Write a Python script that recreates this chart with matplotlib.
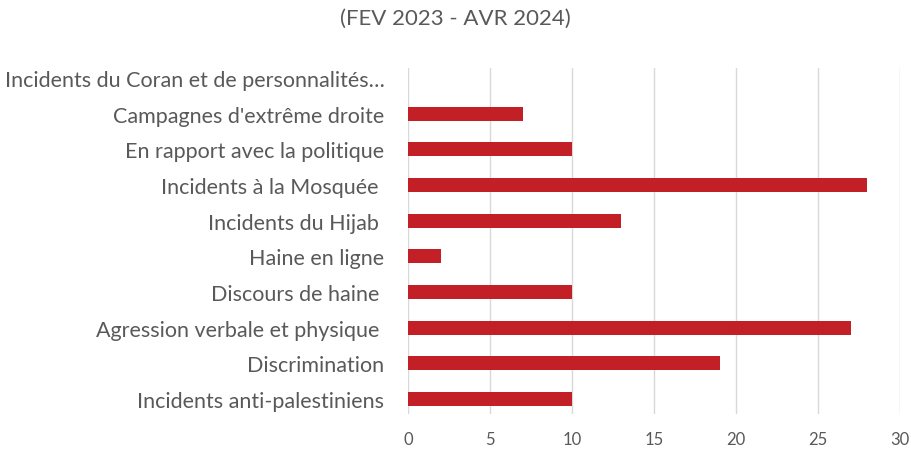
import matplotlib.pyplot as plt

categories = [
    "Incidents anti-palestiniens",
    "Discrimination",
    "Agression verbale et physique ",
    "Discours de haine ",
    "Haine en ligne",
    "Incidents du Hijab ",
    "Incidents à la Mosquée ",
    "En rapport avec la politique",
    "Campagnes d'extrême droite",
    "Incidents du Coran et de personnalités…",
]
values = [10, 19, 27, 10, 2, 13, 28, 10, 7, 0]
xticks = [0, 5, 10, 15, 20, 25, 30]

plt.rcParams['font.family'] = ['Lato', 'DejaVu Sans']
text_color = '#595959'

fig = plt.figure(figsize=(9.11, 4.52), dpi=100)
ax = fig.add_axes([408 / 911, 1 - 415 / 452, 492 / 911, 346 / 452])

ax.barh(range(len(categories)), values, height=0.39, color='#C21F27', zorder=3)
ax.set_xlim(0, 30)
ax.set_ylim(-0.42, 9.28)
ax.set_xticks(xticks)
ax.set_yticks(range(len(categories)))
ax.set_yticklabels(categories)
ax.grid(axis='x', color='#D9D9D9', linewidth=1, zorder=0)
for s in ax.spines.values():
    s.set_visible(False)
ax.tick_params(axis='both', length=0, colors=text_color)
ax.tick_params(axis='y', labelsize=15.5, pad=17)
ax.tick_params(axis='x', labelsize=12, pad=12)

fig.suptitle("(FEV 2023 - AVR 2024)", y=0.98, fontsize=16, color=text_color)

fig.savefig('out.png', dpi=100)
